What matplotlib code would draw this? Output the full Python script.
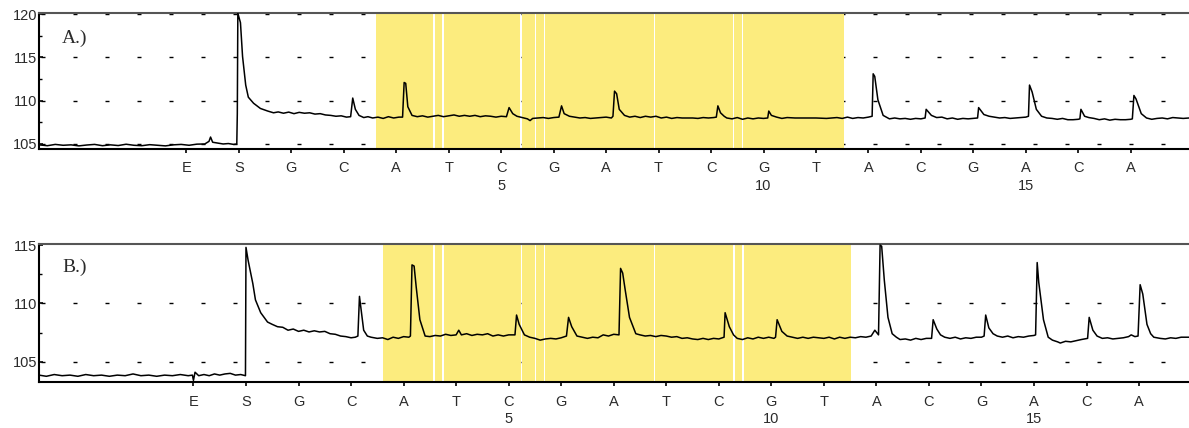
import matplotlib
matplotlib.use("Agg")
import numpy as np
from matplotlib import pyplot as plt

# Dispensation order (E, S, then nucleotides)
dispensation = ["E", "S", "G", "C", "A", "T", "C", "G", "A", "T", "C", "G", "T", "A", "C", "G", "A", "C", "A"]
position_numbers = {6: "5", 11: "10", 16: "15"}

# Trace A, (dispensation position, signal)
trace_a = [
    (-2.81, 104.9), (-2.65, 104.8), (-2.5, 104.95), (-2.35, 104.85), (-2.2, 104.9), (-2.05, 104.78),
    (-1.9, 104.88), (-1.75, 104.95), (-1.6, 104.8), (-1.45, 104.9), (-1.3, 104.82), (-1.15, 104.97),
    (-1.0, 104.85), (-0.85, 104.8), (-0.7, 104.92), (-0.55, 104.85), (-0.4, 104.78), (-0.25, 104.9),
    (-0.1, 104.95), (0.05, 104.85), (0.2, 104.98), (0.35, 105.0), (0.43, 105.3), (0.46, 105.8),
    (0.5, 105.2), (0.6, 105.1), (0.7, 105.0), (0.8, 105.05), (0.9, 104.95), (0.96, 105.0),
    (0.97, 108.5), (0.98, 120.1), (1.03, 119.0), (1.07, 115.1), (1.13, 111.8), (1.18, 110.4),
    (1.28, 109.7), (1.41, 109.1), (1.48, 108.95), (1.55, 108.8), (1.66, 108.6), (1.75, 108.7),
    (1.85, 108.55), (1.95, 108.68), (2.05, 108.5), (2.15, 108.65), (2.25, 108.55), (2.35, 108.6),
    (2.45, 108.45), (2.55, 108.5), (2.65, 108.35), (2.75, 108.3), (2.85, 108.2), (2.95, 108.25),
    (3.05, 108.1), (3.13, 108.15), (3.17, 110.3), (3.22, 109.0), (3.29, 108.3), (3.38, 108.05),
    (3.46, 108.15), (3.55, 108.0), (3.65, 108.1), (3.75, 107.95), (3.85, 108.15), (3.95, 108.0),
    (4.05, 108.1), (4.12, 108.1), (4.15, 112.1), (4.18, 112.0), (4.22, 109.3), (4.3, 108.3),
    (4.4, 108.15), (4.5, 108.25), (4.6, 108.1), (4.7, 108.2), (4.8, 108.3), (4.9, 108.15),
    (5.0, 108.25), (5.1, 108.35), (5.2, 108.2), (5.3, 108.3), (5.4, 108.2), (5.5, 108.3),
    (5.6, 108.15), (5.7, 108.25), (5.8, 108.2), (5.9, 108.1), (6.0, 108.2), (6.1, 108.15),
    (6.15, 109.2), (6.22, 108.5), (6.3, 108.2), (6.4, 108.05), (6.5, 107.9), (6.55, 107.7),
    (6.6, 107.95), (6.7, 108.0), (6.8, 108.05), (6.9, 107.95), (7.0, 108.05), (7.1, 108.1),
    (7.15, 109.4), (7.2, 108.5), (7.3, 108.2), (7.4, 108.1), (7.5, 108.0), (7.6, 108.05),
    (7.7, 107.95), (7.8, 108.0), (7.9, 108.05), (8.0, 108.1), (8.1, 108.0), (8.13, 108.2),
    (8.16, 111.1), (8.2, 110.8), (8.25, 109.0), (8.35, 108.3), (8.45, 108.1), (8.55, 108.2),
    (8.65, 108.05), (8.75, 108.2), (8.85, 108.1), (8.95, 108.2), (9.05, 108.0), (9.15, 108.1),
    (9.25, 107.95), (9.35, 108.05), (9.45, 108.0), (9.55, 108.0), (9.65, 108.0), (9.75, 107.95),
    (9.85, 108.05), (9.95, 108.0), (10.05, 108.05), (10.1, 108.1), (10.13, 109.4), (10.18, 108.6),
    (10.25, 108.2), (10.3, 108.0), (10.4, 107.9), (10.5, 108.05), (10.6, 107.85), (10.7, 108.0),
    (10.8, 107.9), (10.9, 108.0), (11.0, 107.95), (11.08, 108.0), (11.1, 108.8), (11.15, 108.3),
    (11.25, 108.1), (11.35, 107.95), (11.45, 108.05), (11.6, 108.0), (11.8, 108.0), (12.0, 108.0),
    (12.2, 107.95), (12.4, 108.05), (12.5, 107.95), (12.6, 108.1), (12.7, 107.95), (12.8, 108.05),
    (12.9, 108.0), (13.0, 108.1), (13.07, 108.2), (13.09, 113.1), (13.12, 112.8), (13.18, 110.1),
    (13.28, 108.3), (13.4, 107.9), (13.5, 108.0), (13.6, 107.9), (13.7, 107.95), (13.8, 107.85),
    (13.9, 107.95), (14.0, 107.9), (14.08, 108.0), (14.1, 109.0), (14.2, 108.3), (14.3, 108.05),
    (14.4, 108.1), (14.5, 107.9), (14.6, 108.0), (14.7, 107.85), (14.8, 107.95), (14.9, 107.9),
    (15.0, 107.95), (15.08, 108.0), (15.1, 109.2), (15.2, 108.4), (15.3, 108.2), (15.4, 108.1),
    (15.5, 108.0), (15.6, 108.05), (15.7, 107.95), (15.8, 108.0), (15.9, 108.05), (16.0, 108.1),
    (16.05, 108.2), (16.07, 111.8), (16.12, 111.0), (16.2, 109.0), (16.3, 108.2), (16.4, 108.0),
    (16.5, 107.95), (16.6, 107.85), (16.7, 107.95), (16.8, 107.8), (16.9, 107.8), (17.0, 107.85),
    (17.03, 107.9), (17.05, 109.0), (17.12, 108.2), (17.2, 108.05), (17.3, 107.95), (17.4, 107.8),
    (17.5, 107.9), (17.6, 107.75), (17.7, 107.85), (17.8, 107.8), (17.9, 107.8), (18.0, 107.85),
    (18.03, 107.9), (18.06, 110.6), (18.1, 110.2), (18.2, 108.5), (18.3, 108.0), (18.4, 107.85),
    (18.5, 107.95), (18.6, 108.0), (18.7, 107.9), (18.8, 108.05), (18.9, 108.0), (19.0, 107.95),
    (19.11, 108.0),
]

# Trace B
trace_b = [
    (-2.94, 103.85), (-2.8, 103.75), (-2.65, 103.9), (-2.5, 103.8), (-2.35, 103.85), (-2.2, 103.75),
    (-2.05, 103.9), (-1.9, 103.8), (-1.75, 103.85), (-1.6, 103.75), (-1.45, 103.85), (-1.3, 103.8),
    (-1.15, 103.95), (-1.0, 103.8), (-0.85, 103.85), (-0.7, 103.75), (-0.55, 103.85), (-0.4, 103.8),
    (-0.25, 103.9), (-0.1, 103.8), (-0.02, 103.85), (0.0, 103.4), (0.03, 104.1), (0.1, 103.8),
    (0.2, 103.9), (0.3, 103.8), (0.4, 103.95), (0.5, 103.85), (0.6, 103.95), (0.7, 104.0),
    (0.8, 103.85), (0.9, 103.9), (0.99, 103.8), (1.0, 114.8), (1.04, 113.7), (1.13, 111.7),
    (1.18, 110.3), (1.28, 109.2), (1.41, 108.4), (1.5, 108.2), (1.6, 108.0), (1.7, 107.95),
    (1.8, 107.7), (1.9, 107.8), (2.0, 107.6), (2.1, 107.7), (2.2, 107.55), (2.3, 107.65),
    (2.4, 107.55), (2.5, 107.6), (2.6, 107.4), (2.7, 107.35), (2.8, 107.2), (2.9, 107.15),
    (3.0, 107.05), (3.08, 107.1), (3.13, 107.2), (3.16, 110.6), (3.19, 109.5), (3.24, 107.7),
    (3.31, 107.2), (3.38, 107.1), (3.5, 107.0), (3.6, 107.05), (3.7, 106.9), (3.8, 107.1),
    (3.9, 107.0), (4.0, 107.15), (4.1, 107.1), (4.13, 107.2), (4.16, 113.3), (4.2, 113.2),
    (4.24, 111.4), (4.31, 108.6), (4.41, 107.2), (4.5, 107.15), (4.6, 107.25), (4.7, 107.2),
    (4.8, 107.35), (4.9, 107.25), (5.0, 107.3), (5.05, 107.7), (5.1, 107.3), (5.2, 107.4),
    (5.3, 107.25), (5.4, 107.35), (5.5, 107.3), (5.6, 107.4), (5.7, 107.2), (5.8, 107.3),
    (5.9, 107.2), (6.0, 107.3), (6.12, 107.3), (6.15, 109.0), (6.2, 108.2), (6.3, 107.3),
    (6.4, 107.1), (6.5, 107.0), (6.6, 106.85), (6.7, 106.95), (6.8, 107.0), (6.9, 106.95),
    (7.0, 107.05), (7.1, 107.2), (7.14, 108.8), (7.2, 108.0), (7.3, 107.2), (7.4, 107.1),
    (7.5, 107.0), (7.6, 107.1), (7.7, 107.05), (7.8, 107.3), (7.9, 107.2), (8.0, 107.35),
    (8.1, 107.3), (8.13, 113.0), (8.17, 112.6), (8.22, 111.1), (8.3, 108.8), (8.42, 107.4),
    (8.5, 107.3), (8.6, 107.2), (8.7, 107.25), (8.8, 107.15), (8.9, 107.25), (9.0, 107.2),
    (9.1, 107.1), (9.2, 107.15), (9.3, 107.0), (9.4, 107.05), (9.5, 106.95), (9.6, 106.9),
    (9.7, 107.0), (9.8, 106.9), (9.9, 107.0), (10.0, 106.95), (10.1, 107.1), (10.12, 109.2),
    (10.2, 108.0), (10.28, 107.3), (10.35, 107.0), (10.45, 106.9), (10.55, 107.05), (10.65, 106.95),
    (10.75, 107.1), (10.85, 107.0), (10.95, 107.1), (11.05, 107.0), (11.08, 107.1), (11.11, 108.6),
    (11.2, 107.6), (11.3, 107.2), (11.4, 107.1), (11.5, 107.0), (11.6, 107.1), (11.7, 107.0),
    (11.8, 107.1), (11.9, 107.05), (12.0, 107.0), (12.1, 107.1), (12.2, 106.95), (12.3, 107.1),
    (12.4, 107.0), (12.5, 107.1), (12.6, 107.05), (12.7, 107.15), (12.8, 107.1), (12.9, 107.2),
    (12.97, 107.7), (13.04, 107.3), (13.07, 115.0), (13.1, 114.9), (13.15, 112.0), (13.22, 108.8),
    (13.3, 107.4), (13.38, 107.1), (13.45, 106.9), (13.55, 106.95), (13.65, 106.85), (13.75, 107.0),
    (13.85, 106.9), (13.95, 107.0), (14.05, 107.0), (14.08, 108.6), (14.15, 107.8), (14.22, 107.3),
    (14.3, 107.1), (14.4, 107.0), (14.5, 107.1), (14.6, 106.95), (14.7, 107.05), (14.8, 107.0),
    (14.9, 107.1), (15.0, 107.1), (15.05, 107.2), (15.08, 109.0), (15.14, 107.9), (15.22, 107.4),
    (15.3, 107.2), (15.4, 107.1), (15.5, 107.2), (15.6, 107.05), (15.7, 107.15), (15.8, 107.1),
    (15.9, 107.2), (16.0, 107.25), (16.03, 107.3), (16.06, 113.5), (16.09, 111.8), (16.18, 108.6),
    (16.27, 107.1), (16.35, 106.85), (16.45, 106.7), (16.5, 106.6), (16.6, 106.75), (16.7, 106.7),
    (16.8, 106.8), (16.9, 106.9), (17.02, 107.0), (17.05, 108.8), (17.12, 107.7), (17.2, 107.2),
    (17.3, 107.0), (17.4, 107.05), (17.5, 106.95), (17.6, 107.0), (17.7, 107.05), (17.8, 107.15),
    (17.85, 107.3), (17.92, 107.15), (17.98, 107.2), (18.02, 111.6), (18.07, 110.8), (18.15, 108.2),
    (18.22, 107.4), (18.28, 107.1), (18.4, 107.0), (18.5, 106.95), (18.6, 107.05), (18.7, 107.0),
    (18.8, 107.1), (18.95, 107.1),
]
trace_a_x, trace_a_y = zip(*trace_a)
trace_b_x, trace_b_y = zip(*trace_b)

# Highlighted (yellow) region and the thin white gaps inside it
yellow_a = (3.61, 12.54)
gaps_a = [4.72, 4.89, 6.38, 6.65, 6.82, 8.92, 10.43, 10.60]
yellow_b = (3.61, 12.52)
gaps_b = [4.58, 4.75, 6.24, 6.51, 6.68, 8.78, 10.29, 10.46]

panels = [
    dict(rect=[39/1189, 1 - 149/428, 1150/1189, 136/428], xlim=(-2.81, 19.11), ylim=(104.42, 120.12),
         yticks=[105, 110, 115, 120], grid=[105, 110, 115, 120], x=trace_a_x, y=trace_a_y,
         yellow=yellow_a, gaps=gaps_a, label="A.)", label_y=0.78),
    dict(rect=[39/1189, 1 - 382/428, 1150/1189, 138/428], xlim=(-2.94, 18.95), ylim=(103.26, 115.09),
         yticks=[105, 110, 115], grid=[105, 110], x=trace_b_x, y=trace_b_y,
         yellow=yellow_b, gaps=gaps_b, label="B.)", label_y=0.80),
]

yellow = "#fcec7e"
text_color = "#2b2b2b"
px = 72 / 100  # points per pixel at dpi 100

fig = plt.figure(figsize=(11.89, 4.28), dpi=100)

for p in panels:
    ax = fig.add_axes(p["rect"])
    ax.set_xlim(*p["xlim"])
    ax.set_ylim(*p["ylim"])

    # dashed grid (drawn under the yellow area)
    for g in p["grid"]:
        ax.axhline(g, color="black", lw=1.0, zorder=1,
                   linestyle=(30 * px, (4 * px, 28 * px)))

    # yellow area split by thin white gaps
    gw = 1.4 / 52.35
    edges = [p["yellow"][0]]
    for gc in p["gaps"]:
        edges += [gc - gw / 2, gc + gw / 2]
    edges.append(p["yellow"][1])
    for i in range(0, len(edges), 2):
        ax.axvspan(edges[i], edges[i + 1], color=yellow, lw=0, zorder=2)

    ax.plot(p["x"], p["y"], color="black", lw=1.1, zorder=3)

    ax.text(0.02, p["label_y"], p["label"], transform=ax.transAxes, fontsize=14,
            family="Liberation Serif", color=text_color, zorder=4)

    ax.set_xticks(range(len(dispensation)))
    ax.set_xticklabels([d + ("\n" + position_numbers[i] if i in position_numbers else "")
                        for i, d in enumerate(dispensation)])
    for t in ax.get_xticklabels():
        t.set_linespacing(1.35)
        t.set_verticalalignment("top")
    ax.set_yticks(p["yticks"])
    ax.set_yticks(np.array(p["yticks"][:-1]) + 2.5, minor=True)

    ax.tick_params(axis="x", direction="out", length=3, width=1.2, pad=6, labelsize=10.5,
                   labelcolor=text_color, labelfontfamily="Liberation Sans")
    ax.tick_params(axis="y", which="major", direction="in", length=3, width=1.2, pad=1.5,
                   labelsize=10.5, labelcolor=text_color, labelfontfamily="Liberation Sans")
    ax.tick_params(axis="y", which="minor", direction="in", length=2.5, width=1.0)

    ax.spines["right"].set_visible(False)
    ax.spines["top"].set_color("#555555")
    ax.spines["top"].set_linewidth(1.5)
    ax.spines["left"].set_linewidth(1.5)
    ax.spines["bottom"].set_linewidth(1.5)
    ax.set_facecolor("white")

plt.savefig("out.png", dpi=100)
